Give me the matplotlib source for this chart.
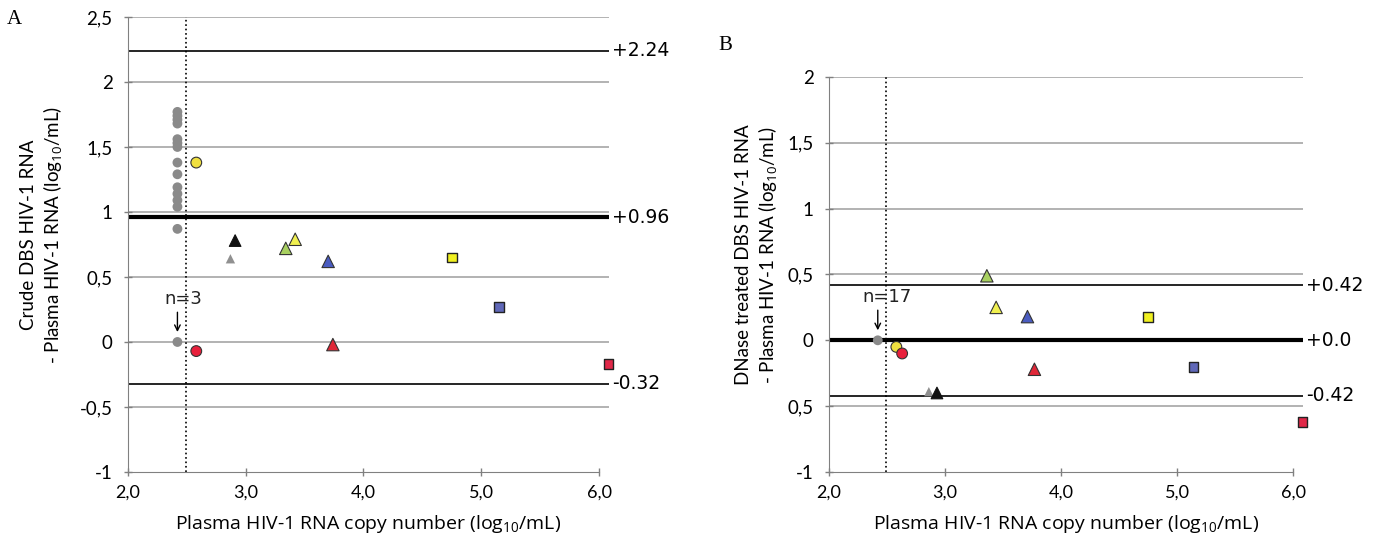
import matplotlib
matplotlib.use("Agg")
import matplotlib.pyplot as plt

plt.rcParams['font.family'] = ['Lato', 'DejaVu Sans']
plt.rcParams['mathtext.fontset'] = 'custom'
plt.rcParams['mathtext.rm'] = 'Open Sans'
plt.rcParams['mathtext.it'] = 'Open Sans'

# ---- data (log10 plasma copies vs difference) ----
x_ticks = [2, 3, 4, 5, 6]
x_ticklabels = ['2,0', '3,0', '4,0', '5,0', '6,0']

# panel A
a_yticks = [-1, -0.5, 0, 0.5, 1, 1.5, 2, 2.5]
a_yticklabels = ['-1', '-0,5', '0', '0,5', '1', '1,5', '2', '2,5']
a_grey_x = [2.42] * 15
a_grey_y = [1.77, 1.74, 1.71, 1.68, 1.56, 1.53, 1.50, 1.38, 1.29, 1.19, 1.14, 1.09, 1.04, 0.87, 0.0]
a_circ_x = [2.58, 2.58]
a_circ_y = [1.38, -0.07]
a_tri_x = [2.87, 2.91, 3.34, 3.42, 3.70, 3.74]
a_tri_y = [0.64, 0.78, 0.72, 0.79, 0.62, -0.02]
a_sq_x = [4.75, 5.15, 6.08]
a_sq_y = [0.65, 0.27, -0.17]
a_lines = [2.24, 0.96, -0.32]
a_line_labels = ['+2.24', '+0.96', '-0.32']

# panel B
b_yticks = [-1, -0.5, 0, 0.5, 1, 1.5, 2]
b_yticklabels = ['-1', '0,5', '0', '0,5', '1', '1,5', '2']
b_grey_x = [2.42]
b_grey_y = [0.0]
b_circ_x = [2.58, 2.63]
b_circ_y = [-0.05, -0.10]
b_tri_x = [2.86, 2.93, 3.36, 3.44, 3.71, 3.77]
b_tri_y = [-0.39, -0.40, 0.49, 0.25, 0.18, -0.22]
b_sq_x = [4.75, 5.14, 6.08]
b_sq_y = [0.18, -0.20, -0.62]
b_lines = [0.42, 0.0, -0.42]
b_line_labels = ['+0.42', '+0.0', '-0.42']

circ_colors = ['#f0e040', '#e8203c']
tri_colors = ['#909090', '#111111', '#a8d060', '#f0f050', '#4a5cc0', '#e02838']
sq_colors = ['#f0f020', '#6068b8', '#e02848']

cutoff = 2.49
xlabel = 'Plasma HIV-1 RNA copy number (log$_{10}$/mL)'


def draw(ax, yt, ytl, ylim, grey_x, grey_y, cx, cy, tx, ty, sx, sy, lines, line_labels, ntext, ntext_x):
    ax.set_xlim(2, 6.085)
    ax.set_ylim(*ylim)
    for y in yt[1:]:
        ax.axhline(y, color='#a6a6a6', lw=1.2, zorder=1)
    for i, y in enumerate(lines):
        ax.axhline(y, color='black', lw=3 if i == 1 else 1.2, zorder=2)
        ax.text(1.006, y, line_labels[i], transform=ax.get_yaxis_transform(),
                ha='left', va='center', fontsize=13.5, family='DejaVu Sans', clip_on=False)
    ax.axvline(cutoff, color='black', ls=':', lw=1.2, zorder=2)

    ax.scatter(grey_x, grey_y, s=50, marker='o', color='#8a8a8a', edgecolors='none', zorder=4)
    ax.scatter(cx, cy, s=60, marker='o', c=circ_colors, edgecolors='#333333', linewidths=0.8, zorder=5)
    ax.scatter(tx, ty, s=[45, 70, 80, 80, 80, 80], marker='^', c=tri_colors,
               edgecolors=['none', '#111111', '#333333', '#333333', '#333333', '#333333'],
               linewidths=0.8, zorder=5)
    ax.scatter(sx, sy, s=50, marker='s', c=sq_colors, edgecolors='#222222', linewidths=1.0,
               zorder=5, clip_on=False)

    ax.annotate('', xy=(grey_x[-1], 0.055), xytext=(grey_x[-1], 0.25),
                arrowprops=dict(arrowstyle='->', color='black', lw=1))
    ax.text(ntext_x, 0.26, ntext, ha='left', va='bottom', fontsize=13,
            family='DejaVu Sans', color='#222222')

    ax.set_xticks(x_ticks)
    ax.set_xticklabels(x_ticklabels, fontsize=13)
    ax.set_yticks(yt)
    ax.set_yticklabels(ytl, fontsize=13.5)
    ax.tick_params(axis='both', direction='inout', length=6, color='#808080', width=1)
    ax.tick_params(axis='y', pad=8)
    ax.tick_params(axis='x', pad=6)
    for s in ['top', 'right']:
        ax.spines[s].set_visible(False)
    ax.spines['left'].set_color('#808080')
    ax.spines['bottom'].set_color('#808080')
    ax.spines['bottom'].set_bounds(2, 6)
    ax.set_xlabel(xlabel, fontsize=14, labelpad=9, family=['Open Sans', 'DejaVu Sans'])


fig = plt.figure(figsize=(13.76, 5.44), dpi=100)

axA = fig.add_axes([0.093, 0.1324, 0.3496, 0.8364])
draw(axA, a_yticks, a_yticklabels, (-1, 2.5), a_grey_x, a_grey_y, a_circ_x, a_circ_y,
     a_tri_x, a_tri_y, a_sq_x, a_sq_y, a_lines, a_line_labels, 'n=3', 2.31)

axB = fig.add_axes([0.6025, 0.1324, 0.3445, 0.7261])
draw(axB, b_yticks, b_yticklabels, (-1, 2), b_grey_x, b_grey_y, b_circ_x, b_circ_y,
     b_tri_x, b_tri_y, b_sq_x, b_sq_y, b_lines, b_line_labels, 'n=17', 2.29)

fig.text(42 / 1376, 1 - 235 / 544, 'Crude DBS HIV-1 RNA\n- Plasma HIV-1 RNA (log$_{10}$/mL)',
         rotation=90, ha='center', va='center', fontsize=13.5, linespacing=1.25)
fig.text(757 / 1376, 1 - 255 / 544, 'DNase treated DBS HIV-1 RNA\n- Plasma HIV-1 RNA (log$_{10}$/mL)',
         rotation=90, ha='center', va='center', fontsize=13.5, linespacing=1.25)

fig.text(7 / 1376, 1 - 20 / 544, 'A', fontsize=15, family='Liberation Serif', va='center')
fig.text(718 / 1376, 1 - 45 / 544, 'B', fontsize=15, family='Liberation Serif', va='center')

fig.savefig('out.png', dpi=100)
